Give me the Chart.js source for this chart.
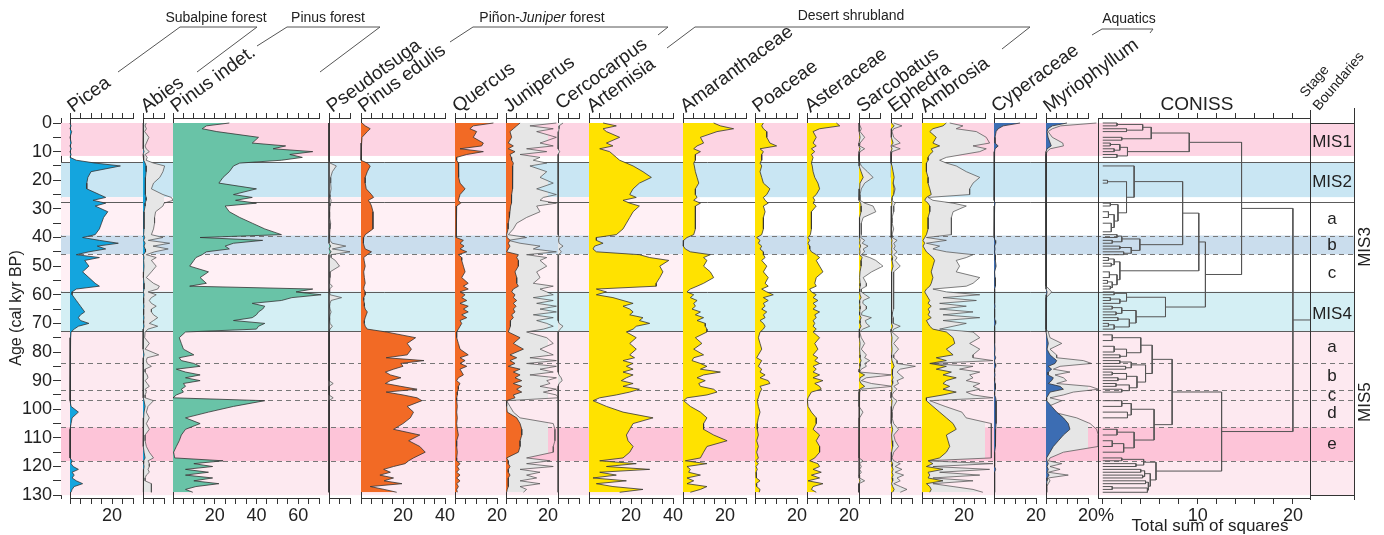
<!DOCTYPE html>
<html>
<head>
<meta charset="utf-8">
<title>Pollen diagram</title>
<script src="https://cdn.jsdelivr.net/npm/chart.js@4.4.0/dist/chart.umd.min.js"></script>
<style>
  html, body { margin: 0; padding: 0; background: #fff; }
  #stage { position: relative; width: 1384px; height: 535px; overflow: hidden; }
  #stage canvas { position: absolute; top: 0; }
</style>
</head>
<body>
<div id="stage"></div>
<script>
// ---------------------------------------------------------------------------
// Sample ages (cal kyr BP)
// ---------------------------------------------------------------------------
const AGES = [0,1,2,3,5,7,8,9,10,11,
  12,13,14,15,17,19,21,23,25,26,
  27,28,29,31,33,35,37,39,40,41,
  42,43,44,45,46,47,48,50,52,54,
  56,57,58,59,60,61,62,63,64,65,
  66,67,68,69,70,71,72,73,75,77,
  79,81,82,83,84,85,86,87,88,89,
  90,91,92,93,94,95,96,97,99,101,
  103,105,107,109,111,113,115,117,118,119,
  120,121,122,123,124,125,126,127,128,129];

// Pollen percentages per taxon (same order as AGES)
const PICEA = [0,0.5,0,0.8,0,0.6,0,0.6,0,0.5,
  0,3,12,24,10,8.5,8,8,14,17,
  11,17,12,18,16,15,14,12,6,14,
  23,13,17,9,3,14,7,9,6,9,
  12,14,3,1,1,2,3,4,5,6,
  7,5,4,5,9,4,2,0.5,0.3,0,
  0,0,0,0,0,0,0,0,0,0,
  0,0,0,0,0,0,0,0,0.5,4,
  1,0.5,0,0,0,0,0,0,1,0.5,
  1.5,4,1,2,1,3,6,2,1,0.5];

const ABIES = [0.3,0,0.3,0,0.3,0,0,0.3,0.5,0,
  0.3,0.3,1,1.5,1.5,1.2,1.2,1,1.2,1.5,
  1.5,1,1,0.5,0.5,0.5,0.5,0.3,0.8,0.3,
  1,0.5,1,1.2,0.2,0.5,0.3,0.5,0.3,0.2,
  0.5,0.5,0.5,0.2,0.5,0.3,0.3,0.3,0.5,0.3,
  0.3,0.3,0.5,0.3,0.3,0.5,0.2,0,0,0.2,
  0,0.5,0.2,0,0.2,0.3,0,0,0.2,0.2,
  0,0.2,0.3,0,0,0,0,0.5,1,0.5,
  0.3,0.2,0.3,0,0,0.2,0.5,1,0.3,0.3,
  0.5,0.3,0.3,0.2,0,0,0.3,0.3,0.3,0.3];

const ABIES_X = [1.5,1,1.6,0.8,2.8,1.6,1,1.5,3,1,
  2,1.5,5,10.3,9.5,8,5,4,9.5,13.5,
  14.3,10,9.5,6,5.5,5.5,5,4,9.5,2.5,
  12.7,4.8,12,5.5,1.6,6.3,4,6.3,4,1.6,
  5,7.8,7,2.4,6.3,4,3,4,6.3,4,
  4,5,7,5,3,7,2.4,1,0.8,3,
  1,7.5,2,1.6,2,4,1,1,2,2.4,
  1,2,3,1,1.6,1,1,5,2.4,1.6,
  3,1.6,3,1,1,1.6,3,5,2.4,3,
  3,2.4,3,1.6,1,1,4,4,4,4];

const PINUS_INDET = [27,16,14,21,41,38,54,48,67,56,
  62,52,32,29,27,24,22,40,29,38,
  30,40,25,27,32,38,44,52,13,43,
  29,25,27,16,14,11,10,8,17,13,
  16,8,67,59,71,57,52,38,44,43,
  41,40,38,29,44,41,40,6,3,4,
  5,10,3,4,10,13,1.6,6,13,6,
  13,5,6,4,5,1.6,0,44,29,17,
  6,13,6,4,3,1.6,0.3,0.8,24,10,
  19,6,17,6,19,10,22,11,6,9.5];

const PSEUDOTSUGA = [0,0,0,0,0,0,0,0,0,0,
  0,0,0,0,0,0,0,0,0,0,
  0,0,0,0,0,0,0,0,0,0,
  0,0.8,0,1,0,0,0,0,0,0,
  0,0,0,0,0,0.3,0,0,0,0,
  0,0,0,0,0,0,0,0,0,0,
  0,0,0,0,0,0,0,0,0,0,
  0,0,0,0,0,0,0,0,0,0,
  0,0,0,0,0,0,0,0,0,0,
  0,0,0,0,0,0,0,0,0,0];

const PSEUDOTSUGA_X = [0,0,0,0,0,0,0,0,0,0,
  0,0,0.5,3.5,1.6,0.8,0.8,1,0.5,0.5,
  1,0.8,0.5,0.3,0.3,0.8,0.5,0.3,0.3,0.5,
  1.5,8,1.6,10,1,1,3,5,0.5,0.5,
  0.3,1.6,0.3,0.3,0.5,6,1,0.5,0.3,0.5,
  1,0.5,0.3,0.3,0.5,1.6,0.5,0,0,0,
  0,0,0,0,0,0,0,0,0,0,
  0,2,0,0,0,0,2,0,0,0,
  0,0,0,0,0,0,0,0,0,0,
  0,0,0,0,0,0,0,0,0,0];

const PINUS_EDULIS = [0.5,2,4.4,3,0.5,0.3,0,0,0,0,
  0,0,3,4.4,3,2,2,2.5,5,6,
  3.5,4.4,5,5.7,5.7,5.7,5.7,2,1.3,1,
  1.3,1.5,2,5,3,1.3,1.5,2,1.3,1.6,
  2,1.5,1.3,2,2,1.3,1.3,1.6,1.6,2,
  3,2.5,2,1.6,1.6,2,3,12,26,22,
  24,22,12,30,19,20,15.5,11.6,14,19,
  14,11.6,19,26.7,12,20,26.7,29,22,25,
  23.5,20,15.5,28,22.7,28,30.6,25,22.7,21,
  15.5,10.8,14,9,15.5,11,19.5,4.4,11,17];

const QUERCUS = [18.3,8.7,7.1,10.3,8.7,13.5,12.7,2.4,13.5,5.6,
  0.8,0.8,1.6,1.7,1.6,1.9,2.4,4.8,2.4,2,
  1.6,2.7,0.8,0.8,0.6,0.5,0.5,0.5,0.8,4,
  2.4,4.3,2.4,5.6,1.6,3.2,3.2,4,4.8,3.2,
  6.3,4,6.3,2.4,4.8,3.2,5.6,2.4,6.3,4,
  6.3,3.2,5.6,2.4,3.2,2.4,1.6,0.8,0.8,1.6,
  2.4,6.3,2.4,4.8,2.4,5.6,2.4,3.2,4,1.6,
  0.8,2.4,1.6,1.6,1.1,1.1,0.8,0.8,1.1,0.8,
  1.1,0.8,1.1,1.6,0.8,0.8,1.1,0.8,0.8,2.4,
  1.1,2,0.8,2.4,0.8,2.4,0.8,1.6,0.8,1.1];

const JUNIPERUS = [6.7,5.1,3.5,1.9,2.7,1.1,3.5,1.1,4.3,1.9,
  2.5,2.7,3.5,3.2,3.2,3.2,3.2,2.9,2.7,2.7,
  2.7,2.5,2.2,1.9,1.6,1.1,1,0.3,0.6,1.9,
  1.1,1.9,1.1,0.3,5.9,5.1,5.9,5.9,4.3,5.1,
  5.1,5.9,3.5,2.7,4.3,3.5,5.1,3.5,4.8,3.5,
  4.3,2.7,3.5,2.2,2.2,2,1.6,1.1,6.7,3.5,
  8.3,1.9,5.1,1.9,4.3,1.1,6.7,3.5,6.7,4.3,
  7.5,3.5,7.5,5.1,7.5,3.5,4.3,0.3,0.3,0.6,
  5.1,6.7,7.5,7.5,6.7,6.7,5.9,0.3,1.1,1.1,
  1.9,1.1,1.1,1.9,1.1,1.1,1.1,1.1,0.6,0.3];

const JUNIPERUS_X = [24,11.4,22.5,14.6,24,16.2,22.5,9.8,19.4,6.7,
  16.2,13,19.4,11.4,19.4,16.2,22.5,14.6,24,17.8,
  16.2,24,14.6,16.2,9.8,5.1,3.5,1.1,9.8,1.1,
  6.7,16.2,13,24,9.8,19.4,16.2,19.4,14.6,16.2,
  13,22.5,16.2,19.4,22.5,13,22.5,14.6,24,16.2,
  24,13,22.5,14.6,19.4,22.5,17.8,9.8,19.4,22.5,
  16.2,22.5,11.4,24,9.8,24,16.2,22.5,11.4,24,
  19.4,21,16.2,24,17.8,24,24.9,0.3,1.9,3.5,
  6.7,22.5,23.3,23.3,23.3,22.5,22.5,9.8,21,9.8,
  22.5,6.7,16.2,9.8,14.6,6.7,16.2,6.7,9.8,8.3];

const CERCOCARPUS_X = [2.4,0.5,0.5,0.3,0,0,0,0,0.8,0,
  0,0,0,0,0,0,0,0,0,0,
  0,0,0,0,0,0,0,0,0.5,0.3,
  0.5,2.4,0.5,1.6,0.3,0,0,0,0,0,
  0,0,0,0,0,0,0,0,0,0,
  0,0,0,0,0.5,2.4,1,0,0,0,
  0,0,0,0,0,0,0,0,0.5,1.5,
  2,0.5,0,0,0,0,0,0,0,0,
  0,0,0,0,0,0,0,0,0,0,
  0,0,0,0,0,0,0,0,0,0];

const ARTEMISIA = [6.7,13,6.7,8.3,14.6,8.3,11.4,5.1,9.8,11.4,
  13,14.6,17.8,21,25.7,29.7,24,21,19.4,22.5,
  16.2,19.4,24,21,19.4,17.8,16.2,13,3.5,3.5,
  6.7,2.7,1.9,3.5,24,28.9,38,33.7,35.2,33.7,
  32,32,3.5,8.3,3.5,11.4,16.2,21,16.2,19.4,
  21,19.4,25.7,24,28.9,22.5,21,17.8,22.5,19.4,
  22.5,19.4,21.7,16.2,21,17.8,21,16.2,21,17.8,
  15.4,21,16.2,24,19.4,13,5.1,1.9,8.3,16.2,
  30.5,21,19.4,17.8,18.6,21,19.4,16.2,5.1,22.5,
  8.3,28.9,5.1,13,1.9,17.8,3.5,11.4,25.7,14.6];

const AMARANTHACEAE = [14.6,17.8,24.1,16.2,8.3,9.8,6.7,5.1,8.3,5.9,
  5.9,5.9,5.1,5.4,5.9,6.7,7.5,5.9,5.9,6.7,
  5.1,8.3,5.9,5.9,5.9,5.9,5.9,5.1,1.9,0.3,
  0,0.3,1.1,3.5,13,9.8,11.4,9.8,13,14.6,
  9.8,6.7,3.5,1.9,5.1,3.5,6.7,5.1,5.9,4.3,
  8.3,5.9,9.8,6.7,10.6,10.6,11.4,11.4,5.9,9,
  5.1,9.8,5.1,4.3,8.3,11.4,8.3,17.8,9.8,6.7,
  10.6,7.5,8.3,14.6,16.2,11.4,1.9,0.3,3.5,8.3,
  11.4,9.8,9.8,14.6,21,11.4,9.8,8.3,1.1,11.4,
  1.9,3.5,2.7,8.3,1.9,5.1,1.9,11.4,8.3,3.5];

const POACEAE = [4,3.2,4,5.6,5.6,7.1,10.3,2.4,4,3.2,
  3.2,3.2,2.4,3.2,2.4,3.2,4,7.1,5.6,4,
  4.8,6.3,4,4.8,4,4,4,3.2,0.8,2.4,
  1.6,3.2,2.4,4,4,4.8,3.2,5.6,4,6.3,
  4.8,6.3,3.2,5.6,8.7,4,6.3,4,4.8,3.2,
  5.6,4,4.8,2.4,4,4.8,4,2.4,1.6,2.4,
  3.2,1.6,0.8,3.2,2.4,1.6,3.2,2.4,4.8,2.4,
  6.3,7.1,2.4,3.2,2.4,2,1.6,1.1,1.6,2.4,
  1.6,1.1,1.1,1.6,0.8,1.6,0.8,1.6,0.5,1.6,
  0.5,1.1,0.5,0.8,0.5,2.4,0.5,0.8,2.4,2];

const ASTERACEAE = [14,15.6,6,2.9,4.4,2.9,4.4,2.1,3.7,2.1,
  2.9,2.5,2.1,2.5,2.9,3.7,5.2,6,4.4,2.9,
  3.7,2.9,4.4,2.1,2.1,2.1,2.1,1.6,0.5,1.3,
  0.5,1.3,1.3,2.1,4.4,6,4.4,6,7.6,4.4,
  3.7,4.4,1.3,2.1,4.4,2.9,5.2,2.9,4.4,2.9,
  6,3.7,4.4,2.9,3.7,2.9,4.4,2.9,6,3.7,
  5.2,2.9,5.2,3.7,6,2.9,4.4,2.9,6,2.9,
  7.6,3.7,6,6.8,2.1,1.3,0.5,0.2,0.5,2.1,
  4.4,4.4,2.9,6,4.4,6,6,3.7,1.3,5.2,
  6,2.9,6.8,2.1,6,0.5,7.6,2.9,2.1,4.4];

const SARCOBATUS = [0,0,0.3,0,0.5,0,0,0.5,0,0,
  0,0,0,0.3,1,2,0.5,0.3,0,0,
  0,0.8,1,1,0.3,0.3,0.3,0.3,0,0.5,
  0.3,0.8,0.3,0.5,0.3,1.5,1,1,0.5,0.3,
  0.5,0.5,0.3,0.3,0.5,1,0.3,0.3,0.5,0.5,
  0.3,0.3,1,0.5,0.5,1,0.3,0,0.3,0.5,
  0.3,0.5,0.5,1,0.5,0.5,0.3,0,2.7,0.5,
  0.3,1,2.7,0.3,0,0,0,0,0,0.3,
  0,0,0,0,0,0,0,0,0.3,0,
  0.3,0,0.3,0,0,0.5,0,0,0,0];

const SARCOBATUS_X = [0,0.5,1.1,0.5,2.7,0.5,0.3,2.7,0.5,0,
  0,0,0.5,1.1,4,6.7,2.7,1.1,0.5,0.5,
  0.5,2.7,6.7,8,2,1.1,1.1,1.1,0.8,2.7,
  1.5,4.3,2,2.7,1.1,5.1,8,11.4,6,2,
  3.5,3.5,1.1,1.1,3,5,2,1.8,3.5,3.5,
  1.5,1.1,5.9,3,3.5,5.1,1.8,0.3,1.1,2.7,
  1.1,3.5,2.7,5.1,2.7,3.5,1.1,0.3,16,3.5,
  1.1,5.9,16,1.1,0.3,0,0,0,0,1.9,
  0.3,0,0,0,0,0,0,0,1.9,0.3,
  1.1,0.3,1.1,0,0.3,2.7,0,0,0,0];

const EPHEDRA = [0.3,1.5,0.3,0,0.3,1,0,0.5,0,0,
  0,0,0,0.5,1,1.5,1,1.5,1.2,0.5,
  0.3,0.5,0.3,0.3,0,0,0.3,0,0,0.5,
  0.3,0.5,0.3,0.5,0.3,0.8,0.5,1,0.3,0.3,
  0.3,0.3,0.3,0.3,0.3,0.3,0.3,0.3,0.3,0.3,
  0,0,0.3,0.3,0.3,0.8,0.3,0,0.5,0.3,
  0.5,0.3,0.3,0.5,1,1.5,0.8,0.5,0.8,1,
  0.5,0.8,0.3,0.5,0.3,0,0,0.5,0.3,0,
  0,0.3,0.8,0.3,0.5,0.8,0.3,0,0.3,0.8,
  0.5,1,0.5,1,0.5,0.8,0.3,0.8,1.5,0.8];

const EPHEDRA_X = [1.3,5.2,1.3,0.5,1.3,4.4,0.5,4.4,0.5,0.2,
  0.2,0.2,0.2,0.2,0.2,0.2,1.1,2,1.3,0.5,
  0.5,2,1.3,1.3,0.5,0.5,1.3,0.5,0.5,2.9,
  1.3,2,1.3,2.9,1.3,2.9,2,4.4,1.3,1.3,
  1.3,1,1,1.3,1.3,1.3,1.3,1.3,1.3,1.3,
  0.8,0.5,1.1,1.1,1,4.4,1.3,0.5,3.6,1.3,
  3.6,1.3,1.3,2.9,2.9,11.6,4.4,2.9,4.4,6,
  2.9,3.6,1.3,2.9,1.3,0.5,1,2.9,1.3,0.5,
  0.5,1.3,3.6,1.3,2,3.6,1.3,0.5,1.3,4.4,
  2,5.2,2,6,2.9,4.4,1.3,4.4,7.6,4.4];

const AMBROSIA = [11.6,10,5.2,3.7,6.8,5.2,8.4,4.4,5.2,3.7,
  2.9,2.9,2.1,2.1,2.1,2.9,2.9,3.7,4.4,2.1,
  1.3,2.9,3.7,3.7,2.9,2.9,2.9,2.1,1.3,0.5,
  1.3,0.5,1.3,2.1,3.7,5.2,6,5.2,4.4,5.2,
  4.4,3.7,2.1,1.3,2.1,2.9,3.7,2.9,4.4,2.9,
  3.7,2.9,4.4,2.1,2.9,3.7,5.2,11.6,14.8,15.6,
  11.6,14.8,6.8,11.6,3.7,11.6,6.8,14,10,16.3,
  11.6,10,13.2,10,16.3,10,2.1,2.1,5.2,8.4,
  11.6,14.8,16.3,11.6,12.4,13.2,11.6,8.4,2.9,5.2,
  2.1,10,2.9,3.7,2.9,10,2.1,3.7,4.4,3.7];

const AMBROSIA_X = [13.2,19.5,16.3,25.9,30.6,32.2,24.3,30.6,27.5,19.5,
  11.6,8.4,11.6,16.3,21.1,27.5,24.3,22.7,22.7,2.9,
  5.2,14.8,21.1,14.8,14,14,14,14,2.1,11.6,
  2.1,8.4,5.2,11.6,24.3,21.1,16.3,17.9,16.3,27.5,
  24.3,21.1,5.2,11.6,27.5,10,25.9,8.4,21.1,8.4,
  24.3,10,27.5,10,21.1,14.8,8.4,24.3,27.5,22.7,
  27.5,24.3,24.3,33.8,3.7,24.3,17.9,27.5,22.7,24.3,
  21.1,27.5,24.3,27.5,21.1,24.3,33.8,3.7,11,19,
  21,33,33,33,33,33,33,33,2.1,33.8,
  5.2,32.2,8.4,27.5,5.2,24.3,5.2,14.8,24.3,29];

const CYPERACEAE = [12.4,4.4,2,1,0.5,0.5,2,0.5,0.3,0.2,
  0.2,0.2,0,0,0,0,0,0,0,0,
  0,0.5,0.3,0,0,0,0,0,0.3,0.5,
  0.8,0.3,0.5,0.3,0.5,0.8,0.5,1,0.3,0.5,
  0.8,0.5,0.3,0.3,0.3,0.3,0.3,0.3,0.5,0.3,
  0.3,0.3,0.3,0.5,0.8,0.3,0.3,0.3,0.3,0.3,
  0.5,0.3,0.8,0.3,0.5,0.8,0.3,0.3,0.5,0.3,
  0.3,0.5,0.8,0.5,0.3,0.3,0.8,1,1,1,
  1,1,0.8,0.8,0.8,0.5,0.3,0.3,0.3,0.3,
  0.3,0.8,0.3,0.3,0.3,0.3,0.3,0.3,0.3,0.3];

const MYRIOPHYLLUM = [10,3,1,0.5,1,2,2.5,0.5,0,0,
  0,0,0,0,0,0,0,0,0,0,
  0,0,0,0,0,0,0,0,0,0,
  0,0,0,0,0,0,0,0,0,0,
  0,0,0.3,0.5,0.3,0,0,0,0,0,
  0,0,0,0,0,0,0,0.3,0.5,1.1,
  0.5,1.9,3.5,5.1,4.3,1.1,2.7,1.1,1,3.5,
  2.7,1.1,6.7,8.3,1.9,1.1,0.3,0.3,2.7,5.1,
  8.3,10.6,11.4,8.3,5.9,3.5,1.9,0.3,0.5,1.1,
  0.5,1.1,0.5,1.5,0.5,0.5,0.3,0.3,0.3,0.3];

const MYRIOPHYLLUM_X = [24,7,3,1,3,8,8.3,2,0.5,0,
  0,0,0,0,0,0,0,0,0,0,
  0,0,0,0,0,0,0,0,0,0,
  0,0,0,0,0,0,0,0,0,0,
  0,0,1.5,2.7,1.5,0,0,0,0,0,
  0,0,0,0,0,0,0,1.1,1.9,7.5,
  1.9,5,5.1,17.8,21.7,6.7,3.5,11.4,4.3,8.3,
  9.8,5.1,21,24.9,13,8.3,1.9,7.5,1.1,3.5,
  14.6,21,24.1,24.9,24.9,24.9,8.3,1.9,1.1,7.5,
  1.9,6.7,1.1,10.6,1.1,1.9,1.1,0.3,0.3,0.3];

// Taxa, in diagram order, with their main curve and 10x exaggeration curve
const TAXA = ['Picea','Abies','Pinus indet.','Pseudotsuga','Pinus edulis','Quercus','Juniperus',
  'Cercocarpus','Artemisia','Amaranthaceae','Poaceae','Asteraceae','Sarcobatus','Ephedra',
  'Ambrosia','Cyperaceae','Myriophyllum'];
const TAXON_PCT = [PICEA, ABIES, PINUS_INDET, PSEUDOTSUGA, PINUS_EDULIS, QUERCUS, JUNIPERUS,
  null, ARTEMISIA, AMARANTHACEAE, POACEAE, ASTERACEAE, SARCOBATUS, EPHEDRA,
  AMBROSIA, CYPERACEAE, MYRIOPHYLLUM];
const TAXON_EXAG = [null, ABIES_X, null, PSEUDOTSUGA_X, null, null, JUNIPERUS_X,
  CERCOCARPUS_X, null, null, null, null, SARCOBATUS_X, EPHEDRA_X,
  AMBROSIA_X, null, MYRIOPHYLLUM_X];
const AXIS_MAX = [30,10,70,10,40,20,20,10,40,30,20,20,10,10,30,20,20];

// Ecological groups
const GROUP_NAMES = ['Subalpine forest', 'Pinus forest', 'Piñon-Juniper forest', 'Desert shrubland', 'Aquatics'];

// Marine isotope stages: shaded intervals and boundaries (kyr BP)
const BAND_NAMES = ['MIS1','MIS2','MIS3a','MIS3b','MIS3c','MIS4','MIS5a-d','MIS5e','MIS5 base'];
const BAND_TOP  = [0, 13.7, 25.9, 39.3, 45.9, 58.9, 72.8, 106.3, 118.1];
const BAND_BASE = [11.5, 25.9, 39.3, 45.9, 58.9, 72.8, 106.3, 118.1, 130];
const SOLID_BOUNDARIES = [13.7, 27.7, 58.9, 72.8];
const DASHED_BOUNDARIES = [39.3, 45.9, 83.9, 93.2, 96.8, 106.3, 118.1];
const STAGE_LABELS = ['MIS1','MIS2','a','b','c','MIS4','a','b','c','d','e'];
const STAGE_LABEL_AGE = [6.8, 20.7, 33.5, 42.6, 52.4, 66.8, 78.3, 88.5, 95, 101.5, 112.2];
const STAGE_GROUPS = ['MIS3','MIS5'];
const STAGE_GROUP_AGE = [43.3, 97.5];

// CONISS dendrogram: [merge height, upper branch, lower branch]; leaves are sample ages
const CONISS_TREE =
[20,
  [14.6,
    [9.1,
      [5.1, [4.2, [1.5, 0, 1], [2.5, 2, 3]], [2.0, 5, 6]],
      [2.6, [1.8, [0.8, 7, 8], [1.2, 9, 10]], [1.5, 11, 12]]],
    [10.8,
      [10.1,
        [8.4,
          [3.3, 15, [2.5, [0.5, 20, 21], [1.6, [0.8, 28, 29], [1.2, [0.6, 31, 33], [0.9, 35, 38]]]]],
          [3.9, [2.0, [1.5, 39, 40], [1.0, 41, 42]], [3.0, [1.8, 43, 44], [2.2, 45, 46]]]],
        [1.8, [1.2, [0.6, 47, 48], [0.9, 49, 50]], [1.5, [0.7, 52, 54], [1.0, [0.5, 55, 56], [0.8, 57, 58]]]]],
      [6.6, [2.5, [1.2, 59, 60], [1.8, [0.8, 61, 62], 63]],
            [3.5, [2.0, [1.0, 64, 65], [1.4, 66, 67]], [2.8, [1.6, 68, 69], [1.2, [0.6, 70, 71], 72]]]]]],
  [12.5,
    [7.3,
      [5.2, [4.0, [1.0, 74, 76], [2.5, [1.2, 78, 80], [1.8, 81, 82]]],
            [4.5, [3.0, [1.8, 83, 84], [2.4, 85, 86]], [3.6, [2.5, [1.0, 87, 88], [1.6, 89, 90]], [2.8, [1.4, 91, 92], [2.0, 93, 94]]]]],
      [5.4, [3.0, [2.0, 97, 99], [2.6, 101, 103]], [3.3, [1.5, 107, 109], [2.2, [1.0, 111, 113], 115]]]],
    [5.6, [4.3, [2.0, 117, 118], [3.5, 119, 120]],
          [5.0, [4.4, [4.0, 121, 122], [4.2, 123, 124]], [4.8, [4.5, 125, 126], [4.7, [1.0, 127, 128], 129]]]]]];

// ---------------------------------------------------------------------------
// Layout and styling
// ---------------------------------------------------------------------------
const FAM = '"Liberation Sans", Arial, Helvetica, sans-serif';
Chart.defaults.font.family = FAM;
Chart.defaults.color = '#222';

const W = 1384, H = 535;
const PX_PER_PCT = 2.09;
const AGE_MIN = -1.75, AGE_MAX = 131;
const PAD_L = 14, PAD_R = 30, PAD_T = 112, PAD_B = 7;
const PANEL_LEFT = [70, 143.3, 173.3, 329.3, 360.7, 455, 506, 558, 589.3, 682.7, 755, 807.3, 859.3, 890.7, 922.3, 994, 1046];
const TAXON_COLOR = ['#14a5de','#14a5de','#69c3a7','#69c3a7','#f26a25','#f26a25','#f26a25', null,
  '#ffe200','#ffe200','#ffe200','#ffe200','#ffe200','#ffe200','#ffe200','#3c6db3','#3c6db3'];
const EXAG_FILL = '#e6e6e6';
const LINE_DARK = '#333';
const LABEL_ANGLE = -36;
const LABEL_BASE_Y = 113;
const LABEL_FONT = '19px ' + FAM;
const LABEL_DY = {Cercocarpus: -3};

const CONISS_LEFT = 1098, CONISS_RIGHT = 1310, CONISS_MIN = -0.5, CONISS_MAX = 21.8;
const STAGE_LEFT = 1310, STAGE_RIGHT = 1354;
const BAND_FILL = ['#fdd4e3','#c9e6f3','#fff0f5','#cadded','#fff0f5','#d4eff4','#fde9f0','#fdc4d8','#fde9f0'];
const BAND_RIGHT = [1354, 1354, 700, 1354, 700, 1354, 1354, 1354, 1354];
const GROUP_STYLE = [
  {cx: 216, cy: 18, path: [[118,72],[180,27],[257,27],[197,72]]},
  {cx: 328, cy: 18, path: [[257,46],[287,27],[380,27],[320,72]]},
  {cx: 542, cy: 18, path: [[450,42],[473,27],[668,27],[658,35]], italicWords: ['Juniper']},
  {cx: 851, cy: 16, path: [[667,48],[695,27],[1030,27],[1002,49]]},
  {cx: 1129, cy: 19, path: [[1092,35],[1102,29],[1153,29],[1150,33]]}
];

const stageEl = document.getElementById('stage');
function makeCanvas(left, width) {
  const c = document.createElement('canvas');
  c.width = Math.round(width); c.height = H;
  c.style.left = Math.round(left) + 'px';
  c.style.width = Math.round(width) + 'px';
  c.style.height = H + 'px';
  stageEl.appendChild(c);
  return c;
}
function rangeTicks(max, step) {
  const t = [];
  for (let v = 0; v <= max + 1e-9; v += step) t.push({value: v});
  return t;
}
function ageScale() {
  return {
    type: 'linear', position: 'left', reverse: true, min: AGE_MIN, max: AGE_MAX,
    afterFit: s => { s.width = 0; },
    grid: {display: false}, ticks: {display: false},
    border: {display: true, color: LINE_DARK, width: 1}
  };
}
function pctAxes(max, step, labelFn) {
  return {
    x: {
      type: 'linear', position: 'bottom', min: 0, max: max,
      afterBuildTicks: s => { s.ticks = rangeTicks(max, step); },
      afterFit: s => { s.height = 30; },
      grid: {display: true, drawOnChartArea: false, drawTicks: true, tickLength: 6, color: LINE_DARK},
      border: {display: true, color: LINE_DARK, width: 1},
      ticks: {autoSkip: false, maxRotation: 0, minRotation: 0, padding: 1, font: {size: 18}, color: '#222',
              callback: labelFn}
    },
    xt: {
      type: 'linear', position: 'top', min: 0, max: max,
      afterBuildTicks: s => { s.ticks = rangeTicks(max, step); },
      afterFit: s => { s.height = 6; },
      grid: {display: true, drawOnChartArea: false, drawTicks: true, tickLength: 5, color: LINE_DARK},
      border: {display: true, color: LINE_DARK, width: 1},
      ticks: {display: true, font: {size: 1}, callback: () => ''}
    }
  };
}
const baseOpts = {
  responsive: false, animation: false, devicePixelRatio: 1, events: [],
  layout: {padding: {left: PAD_L, right: PAD_R, top: PAD_T, bottom: PAD_B}},
  plugins: {legend: {display: false}, tooltip: {enabled: false}}
};

// ---------------------------------------------------------------------------
// Background: stage shading, boundaries, age axis, titles and labels
// ---------------------------------------------------------------------------
function rotText(ctx, text, x, y, deg, font, align) {
  ctx.save();
  ctx.translate(x, y);
  ctx.rotate(deg * Math.PI / 180);
  ctx.font = font;
  ctx.textAlign = align || 'left';
  ctx.textBaseline = 'alphabetic';
  ctx.fillText(text, 0, 0);
  ctx.restore();
}

const backdrop = {
  id: 'backdrop',
  beforeDatasetsDraw(chart) {
    const ctx = chart.ctx, y = chart.scales.y, left = chart.chartArea.left;
    ctx.save();
    BAND_TOP.forEach((top, i) => {
      const y0 = y.getPixelForValue(top), y1 = y.getPixelForValue(BAND_BASE[i]);
      ctx.fillStyle = BAND_FILL[i];
      ctx.fillRect(left, y0, BAND_RIGHT[i] - left, y1 - y0);
    });
    ctx.strokeStyle = '#5c5c5c'; ctx.lineWidth = 1;
    SOLID_BOUNDARIES.forEach(a => {
      const py = Math.round(y.getPixelForValue(a)) + 0.5;
      ctx.beginPath(); ctx.moveTo(left, py); ctx.lineTo(STAGE_RIGHT, py); ctx.stroke();
    });
    ctx.strokeStyle = '#777'; ctx.setLineDash([5, 4]);
    DASHED_BOUNDARIES.forEach(a => {
      const py = Math.round(y.getPixelForValue(a)) + 0.5;
      ctx.beginPath(); ctx.moveTo(left, py); ctx.lineTo(STAGE_RIGHT, py); ctx.stroke();
    });
    ctx.restore();
  },
  afterDraw(chart) {
    const ctx = chart.ctx, y = chart.scales.y;
    ctx.save();
    // stage boundary column
    ctx.strokeStyle = LINE_DARK; ctx.lineWidth = 1;
    const top0 = Math.round(y.getPixelForValue(0)) + 0.5, bot = Math.round(y.getPixelForValue(130)) + 0.5;
    ctx.beginPath();
    ctx.moveTo(STAGE_LEFT + 0.5, 110); ctx.lineTo(STAGE_LEFT + 0.5, 500);
    ctx.moveTo(STAGE_RIGHT + 0.5, 108); ctx.lineTo(STAGE_RIGHT + 0.5, 500);
    ctx.moveTo(STAGE_LEFT, top0); ctx.lineTo(STAGE_RIGHT, top0);
    ctx.moveTo(STAGE_LEFT, bot); ctx.lineTo(STAGE_RIGHT, bot);
    ctx.stroke();
    ctx.fillStyle = '#222';
    ctx.font = '17px ' + FAM; ctx.textAlign = 'center'; ctx.textBaseline = 'middle';
    STAGE_LABELS.forEach((t, i) => ctx.fillText(t, (STAGE_LEFT + STAGE_RIGHT) / 2, y.getPixelForValue(STAGE_LABEL_AGE[i])));
    STAGE_GROUPS.forEach((t, i) => {
      ctx.save(); ctx.translate(1365, y.getPixelForValue(STAGE_GROUP_AGE[i])); ctx.rotate(-Math.PI / 2);
      ctx.fillText(t, 0, 0); ctx.restore();
    });
    // taxa names
    TAXA.forEach((t, i) => rotText(ctx, t, PANEL_LEFT[i] + 3, LABEL_BASE_Y + (LABEL_DY[t] || 0), LABEL_ANGLE, LABEL_FONT));
    // group labels with brackets
    ctx.strokeStyle = '#555'; ctx.lineWidth = 1;
    GROUP_NAMES.forEach((name, i) => {
      const g = GROUP_STYLE[i];
      ctx.beginPath();
      g.path.forEach((p, k) => k ? ctx.lineTo(p[0], p[1]) : ctx.moveTo(p[0], p[1]));
      ctx.stroke();
      const words = name.split(/(\s|-)/).filter(s => s.length);
      const fontOf = w => ((g.italicWords || []).includes(w) ? 'italic ' : '') + '14px ' + FAM;
      let total = 0;
      words.forEach(w => { ctx.font = fontOf(w); total += ctx.measureText(w).width; });
      let x = g.cx - total / 2;
      ctx.textAlign = 'left'; ctx.textBaseline = 'middle'; ctx.fillStyle = '#222';
      words.forEach(w => { ctx.font = fontOf(w); ctx.fillText(w, x, g.cy); x += ctx.measureText(w).width; });
    });
    // column titles
    ctx.textAlign = 'center'; ctx.textBaseline = 'middle';
    ctx.font = '19px ' + FAM; ctx.fillText('CONISS', 1197, 105);
    ctx.font = '17px ' + FAM; ctx.fillText('Total sum of squares', 1210, 526);
    rotText(ctx, 'Stage', 1306, 98, -50, '14px ' + FAM);
    rotText(ctx, 'Boundaries', 1319, 111, -50, '14px ' + FAM);
    ctx.restore();
  }
};

new Chart(makeCanvas(0, W), {
  type: 'scatter',
  data: {datasets: [{data: []}]},
  options: Object.assign({}, baseOpts, {
    layout: {padding: {left: 0, right: 0, top: 118, bottom: 37}},
    scales: {
      x: {display: false, min: 0, max: 1},
      y: {
        type: 'linear', position: 'left', reverse: true, min: AGE_MIN, max: AGE_MAX,
        afterFit: s => { s.width = 61; },
        afterBuildTicks: s => { s.ticks = rangeTicks(130, 5); },
        grid: {display: true, drawOnChartArea: false, drawTicks: true, tickLength: 8, color: LINE_DARK},
        border: {display: true, color: LINE_DARK, width: 1},
        ticks: {autoSkip: false, padding: 1, font: {size: 18}, color: '#222',
                callback: v => (v % 10 === 0 ? String(v) : '')},
        title: {display: true, text: 'Age (cal kyr BP)', font: {size: 16}, color: '#222', padding: {top: 7, bottom: 0}}
      }
    }
  }),
  plugins: [backdrop]
});

// ---------------------------------------------------------------------------
// One Chart.js panel per taxon: filled curves against age
// ---------------------------------------------------------------------------
function curve(values) { return AGES.map((a, i) => ({x: values[i], y: a})); }

TAXA.forEach((name, i) => {
  const max = AXIS_MAX[i];
  const width = PAD_L + max * PX_PER_PCT + PAD_R;
  const datasets = [];
  if (TAXON_PCT[i]) datasets.push({
    label: name, data: curve(TAXON_PCT[i]), fill: 'origin',
    backgroundColor: TAXON_COLOR[i], borderColor: LINE_DARK, borderWidth: 0.8,
    pointRadius: 0, tension: 0, clip: false
  });
  if (TAXON_EXAG[i]) datasets.push({
    label: name + ' x10', data: curve(TAXON_EXAG[i]), fill: 'origin',
    backgroundColor: EXAG_FILL, borderColor: '#4a4a4a', borderWidth: 0.7,
    pointRadius: 0, tension: 0, clip: false
  });
  const label = name === 'Myriophyllum'
    ? (v => (v === 20 ? '20%' : ''))
    : (v => (v > 0 && v % 20 === 0 ? String(v) : ''));
  const scales = pctAxes(max, 5, label);
  if (name === 'Myriophyllum') scales.x.ticks.labelOffset = 8;
  scales.y = ageScale();
  new Chart(makeCanvas(PANEL_LEFT[i] - PAD_L, width), {
    type: 'line',
    data: {datasets},
    options: Object.assign({}, baseOpts, {indexAxis: 'y', scales})
  });
});

// ---------------------------------------------------------------------------
// CONISS dendrogram
// ---------------------------------------------------------------------------
function layoutTree(node, segs) {
  if (typeof node === 'number') return {y: node, h: 0};
  const [h, a, b] = node;
  const A = layoutTree(a, segs), B = layoutTree(b, segs);
  segs.push({x: A.h, y: A.y}, {x: h, y: A.y}, {x: h, y: B.y}, {x: B.h, y: B.y}, {x: NaN, y: NaN});
  return {y: (A.y + B.y) / 2, h};
}
const dendro = [];
const root = layoutTree(CONISS_TREE, dendro);
dendro.push({x: root.h, y: root.y}, {x: CONISS_MAX, y: root.y});

{
  const pxW = CONISS_RIGHT - CONISS_LEFT;
  const scales = pctAxes(CONISS_MAX, 2, v => (v === 10 || v === 20 ? String(v) : ''));
  scales.x.min = CONISS_MIN; scales.xt.min = CONISS_MIN;
  scales.x.afterBuildTicks = s => { s.ticks = rangeTicks(20, 2); };
  scales.xt.afterBuildTicks = s => { s.ticks = rangeTicks(20, 2); };
  scales.y = ageScale();
  new Chart(makeCanvas(CONISS_LEFT - PAD_L, PAD_L + pxW + PAD_R), {
    type: 'scatter',
    data: {datasets: [{
      label: 'CONISS', data: dendro, showLine: true, spanGaps: false,
      borderColor: '#555', borderWidth: 1, pointRadius: 0, tension: 0, fill: false
    }]},
    options: Object.assign({}, baseOpts, {scales})
  });
}
</script>
</body>
</html>
